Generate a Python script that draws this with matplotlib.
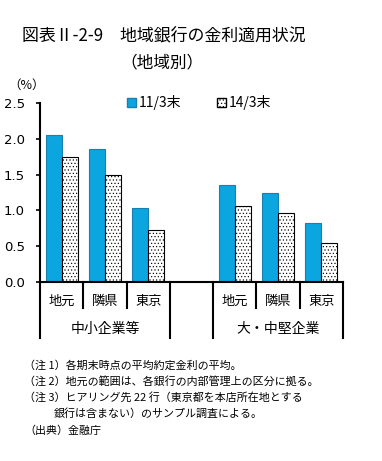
import matplotlib
matplotlib.use("Agg")
import matplotlib.pyplot as plt
import matplotlib.transforms as mtransforms
from matplotlib.patches import Patch

plt.rcParams['font.family'] = ['Noto Sans CJK JP', 'DejaVu Sans']
plt.rcParams['hatch.linewidth'] = 0.45

# data
regions = ['地元', '隣県', '東京', '地元', '隣県', '東京']
slots = [0, 1, 2, 4, 5, 6]
groups = ['中小企業等', '大・中堅企業']
vals_11 = [2.06, 1.86, 1.03, 1.36, 1.25, 0.82]
vals_14 = [1.74, 1.49, 0.72, 1.06, 0.97, 0.55]
series = ['11/3末', '14/3末']
notes = [
    '（注 1）各期末時点の平均約定金利の平均。',
    '（注 2）地元の範囲は、各銀行の内部管理上の区分に拠る。',
    '（注 3）ヒアリング先 22 行（東京都を本店所在地とする',
    '銀行は含まない）のサンプル調査による。',
    '（出典）金融庁',
]

W, H = 382, 461
fig = plt.figure(figsize=(W / 100, H / 100), dpi=100)
ax = fig.add_axes([40 / W, 179 / H, 303 / W, 179 / H])

blue = '#0BA5E0'
bw = 0.37
ax.bar([s + 0.13 for s in slots], vals_11, width=bw, align='edge',
       color=blue, edgecolor='#1B7FAE', linewidth=0.8, label=series[0])
ax.bar([s + 0.50 for s in slots], vals_14, width=bw, align='edge',
       color='white', edgecolor='black', hatch='.....', linewidth=0.8, label=series[1])

ax.set_xlim(0, 7)
ax.set_ylim(0, 2.5)
ax.set_yticks([0, 0.5, 1.0, 1.5, 2.0, 2.5])
ax.set_yticklabels(['%.1f' % v for v in [0, 0.5, 1.0, 1.5, 2.0, 2.5]],
                   family='DejaVu Sans', fontsize=9.5)
ax.tick_params(axis='y', direction='out', length=3, width=1.2, pad=8)
ax.set_xticks([])
for sp in ['top', 'right']:
    ax.spines[sp].set_visible(False)
ax.spines['left'].set_linewidth(1.5)
ax.spines['bottom'].set_linewidth(1.5)

# category table below the axis
tr = mtransforms.blended_transform_factory(ax.transData, ax.transAxes)
row1 = -26 / 179
row2 = -56 / 179
for x in [0, 3, 4, 7]:
    ax.plot([x, x], [0, row2], color='black', lw=1.5, transform=tr, clip_on=False)
for x in [1, 2, 5, 6]:
    ax.plot([x, x], [0, row1], color='black', lw=1.5, transform=tr, clip_on=False)
for s, r in zip(slots, regions):
    ax.text(s + 0.5, -19 / 179, r, transform=tr, ha='center', va='center', fontsize=9.5)
ax.text(1.5, -47 / 179, groups[0], transform=tr, ha='center', va='center', fontsize=10)
ax.text(5.5, -47 / 179, groups[1], transform=tr, ha='center', va='center', fontsize=10)

handles = [Patch(facecolor=blue, edgecolor='#1B7FAE', label=series[0]),
           Patch(facecolor='white', edgecolor='black', hatch='.....', label=series[1])]
ax.legend(handles=handles, loc='center', bbox_to_anchor=(0.525, 1.0), ncol=2,
          frameon=False, fontsize=10, handlelength=0.6, handleheight=0.6,
          handletextpad=0.2, columnspacing=2.6)

fig.text(22 / W, 1 - 35 / H, '図表Ⅱ-2-9　地域銀行の金利適用状況', fontsize=12.2,
         ha='left', va='center')
fig.text(162 / W, 1 - 63 / H, '（地域別）', fontsize=12, ha='center', va='center')
fig.text(27 / W, 1 - 85 / H, '（%）', fontsize=9, ha='center', va='center')

ys = [365, 381, 397, 414, 431]
xs = [24, 24, 24, 54, 24]
for t, x, y in zip(notes, xs, ys):
    fig.text(x / W, 1 - y / H, t, fontsize=7.9, ha='left', va='center')

fig.savefig('out.png', dpi=100)
